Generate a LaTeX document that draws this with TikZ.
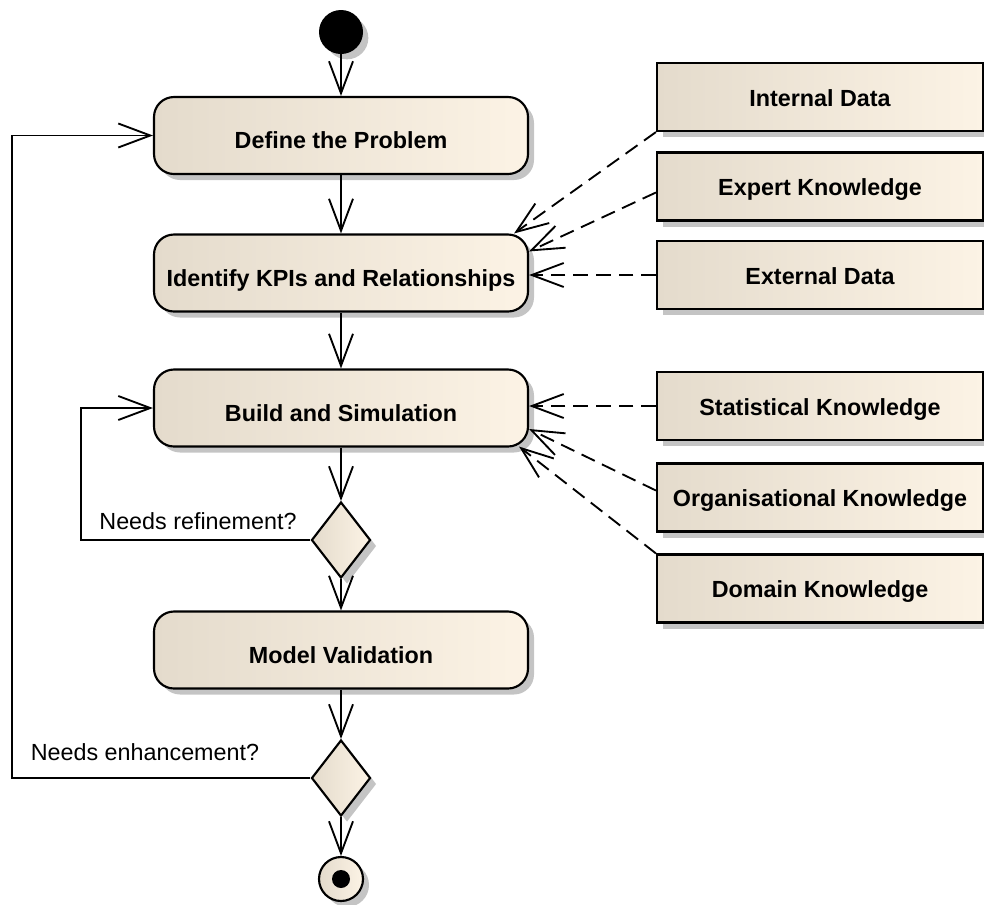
\documentclass[tikz,border=0pt]{standalone}
\usepackage{fontspec}
\setmainfont{Liberation Sans}
\usetikzlibrary{arrows.meta,shapes.geometric,shadows,calc}

\definecolor{fillleft}{RGB}{228,219,204}
\definecolor{fillright}{RGB}{252,243,229}
\definecolor{shadowgray}{RGB}{196,196,196}

\tikzset{
  % one unit = one pixel, y grows downwards
  x=0.75pt, y=-0.75pt,
  boxshadow/.style={drop shadow={shadow xshift=4.5pt, shadow yshift=-4.5pt,
      fill=shadowgray, opacity=1}},
  shaded/.style={left color=fillleft, right color=fillright},
  activity/.style={draw, line width=1.6pt, rounded corners=15pt, shaded,
    boxshadow, inner sep=0pt, minimum width=280.5pt, minimum height=57.75pt,
    text height=20pt, text depth=0pt,
    font=\bfseries\fontsize{17.5pt}{21pt}\selectfont},
  source/.style={draw, line width=1.6pt, shaded, boxshadow, inner sep=0pt,
    minimum width=244.5pt, minimum height=51pt,
    text height=14pt, text depth=0pt,
    font=\bfseries\fontsize{17.5pt}{21pt}\selectfont},
  decision/.style={diamond, draw, line width=1.6pt, shaded, boxshadow,
    inner sep=0pt, minimum width=44.25pt, minimum height=57pt},
  startnode/.style={circle, fill=black, draw=black, line width=1pt,
    minimum size=32pt, inner sep=0pt, boxshadow},
  endnode/.style={circle, draw, line width=1.6pt, shaded, boxshadow,
    minimum size=33pt, inner sep=0pt,
    path picture={\fill[black] (path picture bounding box.center) circle (6.75pt);}},
  guard/.style={font=\fontsize{17.5pt}{21pt}\selectfont, inner sep=0pt},
  flow/.style={line width=1.4pt,
    -{Straight Barb[length=24pt,width=18pt,line width=1.4pt]}},
  dep/.style={flow, dash pattern=on 11pt off 6pt},
}

\begin{document}
\begin{tikzpicture}
\useasboundingbox (0,0) rectangle (984,904);

% activity flow
\node[startnode] (init) at (341,32) {};
\node[activity] (define) at (341,135.5) {Define the Problem};
\node[activity] (identify) at (341,273) {Identify KPIs and Relationships};
\node[activity] (build) at (341,408) {Build and Simulation};
\node[decision] (d1) at (341,540) {};
\node[activity] (valid) at (341,650) {Model Validation};
\node[decision] (d2) at (341,778) {};
\node[endnode] (final) at (341,879) {};

% knowledge sources
\node[source] (internal) at (820,97) {Internal Data};
\node[source] (expert) at (820,186.5) {Expert Knowledge};
\node[source] (external) at (820,275) {External Data};
\node[source] (stat) at (820,406) {Statistical Knowledge};
\node[source] (org) at (820,497.5) {Organisational Knowledge};
\node[source] (domain) at (820,588.5) {Domain Knowledge};

% guards
\node[guard] (lblref) at (198,521) {Needs refinement?};
\node[guard] (lblenh) at (145,752) {Needs enhancement?};

% loop corners
\coordinate (loopA) at (81,540);
\coordinate (loopB) at (12,778);

% control flow
\draw[flow] (init) -- (define);
\draw[flow] (define) -- (identify);
\draw[flow] (identify) -- (build);
\draw[flow] (build) -- (d1);
\draw[flow] (d1) -- (valid);
\draw[flow] (valid) -- (d2);
\draw[flow] (d2) -- (final);
\draw[flow] (d1.west) -- (loopA) |- (build.west);
\draw[flow] (d2.west) -- (loopB) |- (define.west);

% information inputs
\draw[dep] (internal.south west) -- ($(identify.north east)+(-15,0)$);
\draw[dep] ($(expert.west)+(0,6)$) -- ($(identify.north east)+(0,18)$);
\draw[dep] (external.west) -- (external.west -| identify.east);
\draw[dep] (stat.west) -- (stat.west -| build.east);
\draw[dep] ($(org.west)+(0,-7)$) -- ($(build.east)+(0,21)$);
\draw[dep] (domain.north west) -- ($(build.south east)+(-10,-1)$);
\end{tikzpicture}
\end{document}
